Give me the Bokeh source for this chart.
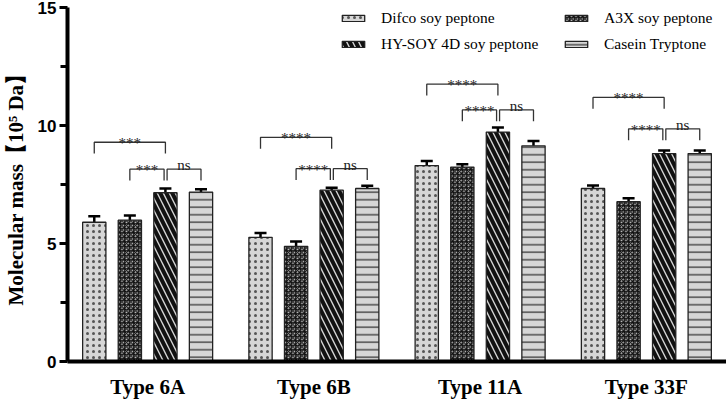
import numpy as np
from bokeh.plotting import figure
from bokeh.models import (ColumnDataSource, Range1d, FixedTicker, Whisker, TeeHead,
                          Legend, LegendItem)
from bokeh.core.properties import value
from bokeh.embed import file_html
from bokeh.resources import INLINE

# ---------------- data ----------------
groups = ["Type 6A", "Type 6B", "Type 11A", "Type 33F"]
series = ["Difco soy peptone", "A3X soy peptone", "HY-SOY 4D soy peptone", "Casein Tryptone"]

difco = [5.90, 5.26, 8.30, 7.33]
difco_err = [0.25, 0.18, 0.20, 0.13]
a3x = [5.99, 4.88, 8.24, 6.77]
a3x_err = [0.20, 0.20, 0.12, 0.15]
hysoy = [7.15, 7.26, 9.72, 8.81]
hysoy_err = [0.18, 0.10, 0.20, 0.13]
casein = [7.18, 7.33, 9.14, 8.81]
casein_err = [0.12, 0.12, 0.20, 0.13]

y_ticks = [0, 5, 10, 15]
y_minor = [2.5, 7.5, 12.5]

# significance brackets: (group index, left series, right series, height, label)
brackets = [
    (0, 0, 2, 9.29, "***"), (0, 1, 2, 8.15, "***"), (0, 2, 3, 8.15, "ns"),
    (1, 0, 2, 9.50, "****"), (1, 1, 2, 8.17, "****"), (1, 2, 3, 8.17, "ns"),
    (2, 0, 2, 11.75, "****"), (2, 1, 2, 10.66, "****"), (2, 2, 3, 10.66, "ns"),
    (3, 0, 2, 11.19, "****"), (3, 1, 2, 9.86, "****"), (3, 2, 3, 9.86, "ns"),
]

# ---------------- layout / styles ----------------
offsets = [-0.321, -0.107, 0.107, 0.321]
bar_w = 0.14
leg_drop = 0.48
fill = "#d6d6d6"
styles = [
    dict(hatch_pattern="dot", hatch_scale=6, hatch_weight=1.3, hatch_color="#555555"),
    dict(hatch_pattern="criss_cross", hatch_scale=4.5, hatch_weight=1.2, hatch_color="#111111"),
    dict(hatch_pattern="left_diagonal_line", hatch_scale=12, hatch_weight=4, hatch_color="#111111"),
    dict(hatch_pattern="horizontal_line", hatch_scale=7.5, hatch_weight=1.6, hatch_color="#555555"),
]

p = figure(width=726, height=401, output_backend="svg", toolbar_location=None,
           x_range=Range1d(-0.482, 3.482), y_range=Range1d(0, 15),
           min_border_left=60, min_border_right=0, min_border_top=7, min_border_bottom=38)
p.outline_line_color = None
p.xgrid.visible = False
p.ygrid.visible = False
p.background_fill_color = "white"

vals = [difco, a3x, hysoy, casein]
errs = [difco_err, a3x_err, hysoy_err, casein_err]
gidx = np.arange(len(groups))
renderers = []
for k in range(4):
    v = np.array(vals[k])
    e = np.array(errs[k])
    src = ColumnDataSource(dict(x=gidx + offsets[k], top=v, up=v + e, lo=v - e))
    r = p.vbar(x="x", top="top", width=bar_w, source=src, fill_color=fill,
               line_color="#222222", line_width=1.3, **styles[k])
    renderers.append(r)
    w = Whisker(base="x", upper="up", lower="lo", source=src, dimension="height",
                line_color="black", line_width=2.5,
                upper_head=TeeHead(size=12, line_width=2.5, line_color="black"),
                lower_head=TeeHead(size=12, line_width=2.5, line_color="black"))
    p.add_layout(w)

# brackets
xs, ys = [], []
sx, sy, st = [], [], []
nx, ny, nt = [], [], []
for g, i, j, h, lab in brackets:
    x1 = g + offsets[i]
    x2 = g + offsets[j]
    if j == 2 and i == 1:
        x2 -= 0.008
    if i == 2:
        x1 += 0.01
    xs.append([x1, x1, x2, x2])
    ys.append([h - leg_drop, h, h, h - leg_drop])
    if lab == "ns":
        nx.append((x1 + x2) / 2); ny.append(h); nt.append(lab)
    else:
        sx.append((x1 + x2) / 2); sy.append(h); st.append(lab)
p.multi_line(xs, ys, line_color="#333333", line_width=1.3)
p.text(sx, sy, text=st, text_align="center", text_baseline="alphabetic",
       text_font=value("Liberation Serif"), text_font_size="15px", text_color="#222222",
       y_offset=1)
p.text(nx, ny, text=nt, text_align="center", text_baseline="alphabetic",
       text_font=value("Liberation Serif"), text_font_size="15px", text_color="#222222",
       y_offset=-4)

# axes
yax = p.yaxis[0]
yax.ticker = FixedTicker(ticks=y_ticks, minor_ticks=y_minor)
yax.axis_line_width = 4
yax.major_tick_line_width = 3
yax.major_tick_out = 8
yax.major_tick_in = 0
yax.minor_tick_line_width = 3
yax.minor_tick_out = 7
yax.minor_tick_in = 0
yax.major_label_text_font = "Liberation Sans"
yax.major_label_text_font_style = "bold"
yax.major_label_text_font_size = "17px"
yax.major_label_text_color = "black"
yax.major_label_standoff = 3
yax.axis_label = "Molecular mass【10⁵ Da】"
yax.axis_label_text_font = "Liberation Serif"
yax.axis_label_text_font_style = "bold"
yax.axis_label_text_font_size = "21px"
yax.axis_label_text_color = "black"
yax.axis_label_standoff = 7

xax = p.xaxis[0]
xax.ticker = FixedTicker(ticks=list(gidx), minor_ticks=[])
xax.major_label_overrides = {int(i): groups[i] for i in gidx}
xax.axis_line_width = 4
xax.major_tick_line_color = None
xax.major_tick_out = 0
xax.major_tick_in = 0
xax.minor_tick_line_color = None
xax.major_label_text_font = "Liberation Serif"
xax.major_label_text_font_style = "bold"
xax.major_label_text_font_size = "21px"
xax.major_label_text_color = "black"
xax.major_label_standoff = 13

legend = Legend(items=[LegendItem(label=series[k], renderers=[renderers[k]]) for k in range(4)],
                location=(272, 307), orientation="horizontal", ncols=2,
                glyph_width=28, glyph_height=8, label_standoff=14, label_width=175,
                label_height=20, spacing=6, padding=0, margin=0,
                border_line_alpha=0, background_fill_alpha=0,
                label_text_font="Liberation Serif", label_text_font_size="15.5px",
                label_text_color="black")
p.add_layout(legend)

open("out.html", "w").write(file_html(p, INLINE))
